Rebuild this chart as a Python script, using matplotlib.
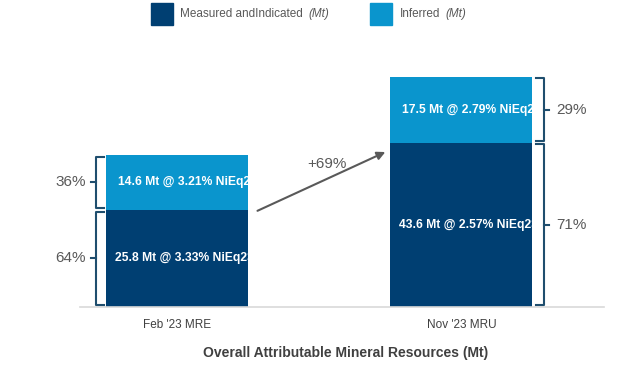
import matplotlib
matplotlib.use('Agg')
import matplotlib.pyplot as plt
import numpy as np

plt.rcParams['font.family'] = ['Liberation Sans', 'DejaVu Sans']

categories = ["Feb '23 MRE", "Nov '23 MRU"]
mi_tonnes = [25.8, 43.6]     # Measured and Indicated (Mt)
inf_tonnes = [14.6, 17.5]    # Inferred (Mt)
mi_grades = [3.33, 2.57]     # % NiEq
inf_grades = [3.21, 2.79]

dark = '#003F72'
light = '#0A95CD'
brace_col = '#1F4E6E'
grey = '#595959'

fig = plt.figure(figsize=(6.44, 3.68), dpi=100)
ax = fig.add_axes([80 / 644, 61 / 368, 524 / 644, 267 / 368])
x = np.arange(len(categories))
w = 0.5
b1 = ax.bar(x, mi_tonnes, w, color=dark, zorder=2)
b2 = ax.bar(x, inf_tonnes, w, bottom=mi_tonnes, color=light, zorder=2)

ax.set_xlim(-0.343, 1.502)
ax.set_ylim(0, 70.8)
for s in ['top', 'right', 'left']:
    ax.spines[s].set_visible(False)
ax.spines['bottom'].set_color('#D9D9D9')
ax.spines['bottom'].set_linewidth(1.2)
ax.set_yticks([])
ax.set_xticks([])

# labels inside bars, clipped at the bar edge
for i in range(len(categories)):
    t = ax.text(x[i] - w / 2 + 0.03, mi_tonnes[i] / 2,
                f'{mi_tonnes[i]} Mt @ {mi_grades[i]:.2f}% NiEq23',
                color='white', fontsize=8.7, fontweight='bold', va='center', ha='left', zorder=3)
    t.set_clip_path(b1[i])
    t = ax.text(x[i] - w / 2 + 0.04, mi_tonnes[i] + inf_tonnes[i] / 2,
                f'{inf_tonnes[i]} Mt @ {inf_grades[i]:.2f}% NiEq23',
                color='white', fontsize=8.7, fontweight='bold', va='center', ha='left', zorder=3)
    t.set_clip_path(b2[i])


def brace(xl, y0, y1, side):
    """скобка: side=-1 слева от столбца, +1 справа"""
    hook = 0.025
    tick = 0.02
    g = 0.5
    xs = [xl - side * hook, xl, xl, xl - side * hook]
    ys = [y0 + g, y0 + g, y1 - g, y1 - g]
    ax.plot(xs, ys, color=brace_col, lw=1.5, solid_joinstyle='round', clip_on=False, zorder=3)
    ym = (y0 + y1) / 2
    ax.plot([xl, xl + side * tick], [ym, ym], color=brace_col, lw=1.5, clip_on=False, zorder=3)
    return ym


# left braces on first bar, right braces on second
tot0 = mi_tonnes[0] + inf_tonnes[0]
tot1 = mi_tonnes[1] + inf_tonnes[1]
ym = brace(-0.285, 0, mi_tonnes[0], -1)
ax.text(-0.322, ym, f'{round(100 * mi_tonnes[0] / tot0)}%', color=grey, fontsize=11, ha='right', va='center')
ym = brace(-0.285, mi_tonnes[0], tot0, -1)
ax.text(-0.322, ym, f'{round(100 * inf_tonnes[0] / tot0)}%', color=grey, fontsize=11, ha='right', va='center')
ym = brace(1.289, 0, mi_tonnes[1], 1)
ax.text(1.333, ym, f'{round(100 * mi_tonnes[1] / tot1)}%', color=grey, fontsize=11, ha='left', va='center')
ym = brace(1.289, mi_tonnes[1], tot1, 1)
ax.text(1.333, ym, f'{round(100 * inf_tonnes[1] / tot1)}%', color=grey, fontsize=11, ha='left', va='center')

# стрелка роста
growth = round(100 * (mi_tonnes[1] / mi_tonnes[0] - 1))
ax.annotate('', xy=(0.741, 41.4), xytext=(0.273, 25.2),
            arrowprops=dict(arrowstyle='-|>', color=grey, lw=1.5, mutation_scale=12))
ax.text(0.526, 37.9, f'+{growth}%', color=grey, fontsize=11, ha='center', va='center')

# подписи категорий
for i, c in enumerate(categories):
    ax.text(x[i], -4.9, c, color='#404040', fontsize=8.5, ha='center', va='center')

fig.text(346 / 644, 1 - 353 / 368, 'Overall Attributable Mineral Resources (Mt)',
         fontsize=10, fontweight='bold', color='#404040', ha='center', va='center')

# легенда
fig.patches.append(plt.Rectangle((151 / 644, 1 - 25 / 368), 22 / 644, 22 / 368,
                                 transform=fig.transFigure, color=dark))
fig.patches.append(plt.Rectangle((370 / 644, 1 - 25 / 368), 22 / 644, 22 / 368,
                                 transform=fig.transFigure, color=light))
for lx, name in [(180, 'Measured andIndicated'), (400, 'Inferred')]:
    t = fig.text(lx / 644, 1 - 14 / 368, name, fontsize=8.5, color=grey, va='center')
    ax.annotate('(Mt)', xy=(1, 0.5), xycoords=t, xytext=(4, 0), textcoords='offset points',
                fontsize=8.5, color=grey, va='center', style='italic', annotation_clip=False)

fig.savefig('out.png', dpi=100)
